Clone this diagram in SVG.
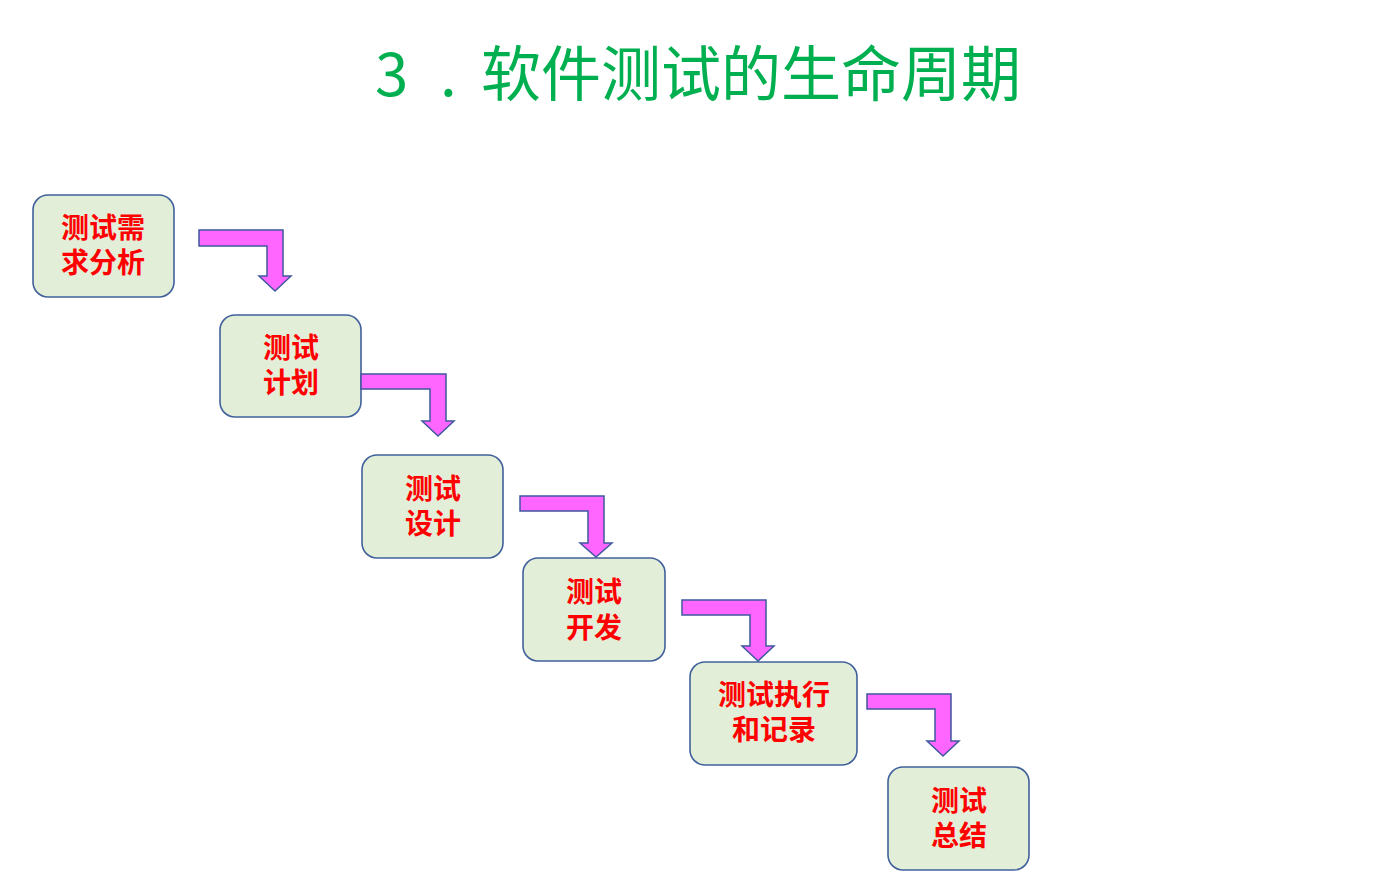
<svg xmlns="http://www.w3.org/2000/svg" width="1380" height="872" viewBox="0 0 1380 872">
<style>
.box{fill:#E3EED9;stroke:#41619B;stroke-width:1.6}
.lbl{font-family:"Noto Sans CJK SC","Liberation Sans",sans-serif;font-size:28px;font-weight:bold;fill:#FF0000;text-anchor:middle}
.arr{fill:#FF66FF;stroke:#3F58A0;stroke-width:1.5;stroke-linejoin:miter}
.title{font-family:"Noto Sans CJK SC","Liberation Sans",sans-serif;font-size:60px;fill:#00B050}
</style>
<rect width="1380" height="872" fill="#FFFFFF"/>
<g id="title">
<text class="title" x="375" y="96">3</text>
<text class="title" x="440" y="96">.</text>
<text class="title" x="481" y="96">软件测试的生命周期</text>
</g>
<g id="node1"><rect class="box" x="33" y="195" width="141" height="102" rx="15"/><text class="lbl" x="103" y="238">测试需</text><text class="lbl" x="103" y="273">求分析</text></g>
<g id="node2"><rect class="box" x="220" y="315" width="141" height="102" rx="15"/><text class="lbl" x="291" y="358">测试</text><text class="lbl" x="291" y="393">计划</text></g>
<g id="node3"><rect class="box" x="362" y="455" width="141" height="103" rx="15"/><text class="lbl" x="433" y="499">测试</text><text class="lbl" x="433" y="534">设计</text></g>
<g id="node4"><rect class="box" x="523" y="558" width="142" height="103" rx="15"/><text class="lbl" x="594" y="602">测试</text><text class="lbl" x="594" y="638">开发</text></g>
<g id="node5"><rect class="box" x="690" y="662" width="167" height="103" rx="15"/><text class="lbl" x="774" y="705">测试执行</text><text class="lbl" x="774" y="740">和记录</text></g>
<g id="node6"><rect class="box" x="888" y="767" width="141" height="103" rx="15"/><text class="lbl" x="959" y="811">测试</text><text class="lbl" x="959" y="846">总结</text></g>
<g id="connectors">
<path class="arr" d="M199,230 H283 V276 H291 L275,291 L259,276 H267 V246 H199 Z"/>
<path class="arr" d="M361,374 H446 V421 H454 L438,436 L422,421 H430 V389 H361 Z"/>
<path class="arr" d="M520,496 H604 V543 H612 L596,557 L580,543 H588 V511 H520 Z"/>
<path class="arr" d="M682,600 H766 V646 H774 L758,661 L742,646 H750 V615 H682 Z"/>
<path class="arr" d="M867,694 H951 V741 H959 L943,756 L927,741 H935 V709 H867 Z"/>
</g>
</svg>
